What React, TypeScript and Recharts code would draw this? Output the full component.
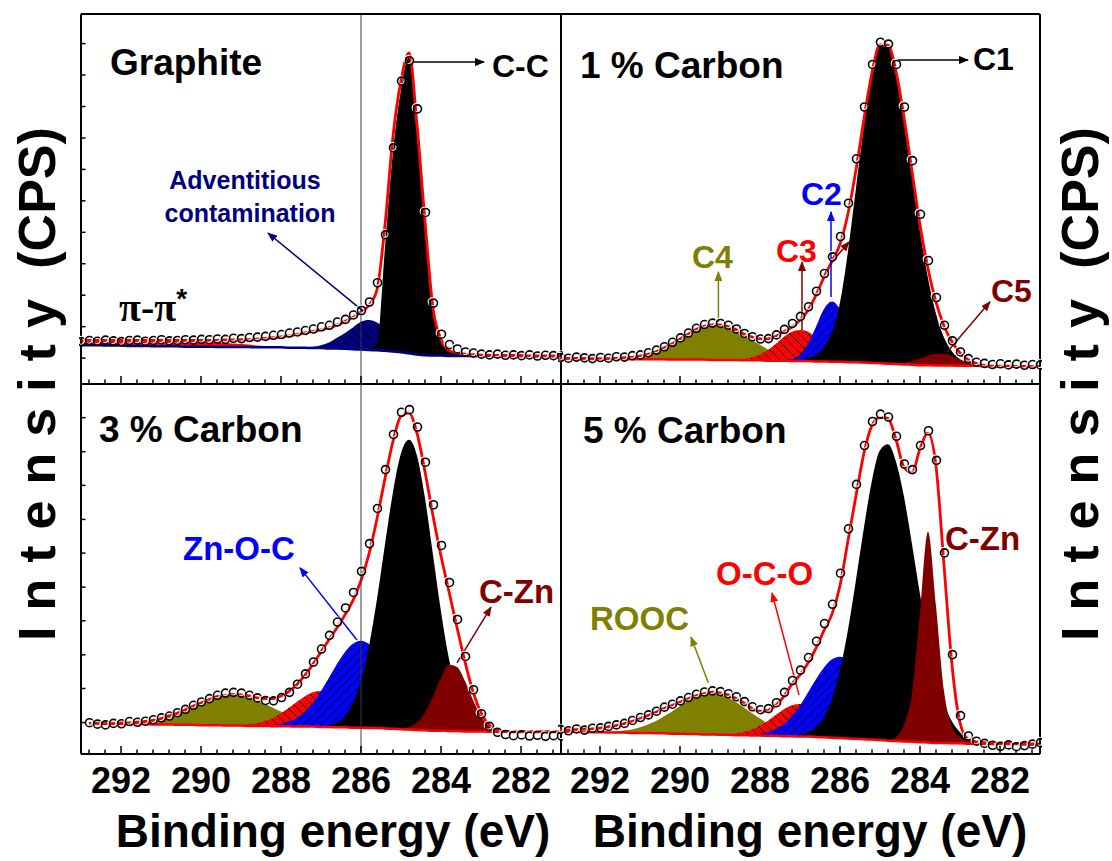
import React from "react";
import { ComposedChart, Area, Line, XAxis, YAxis, ReferenceLine } from "recharts";

// ---------- shared energy grid (binding energy, eV) ----------
const STEP = 0.2;
const ENERGY = [
  293.0, 292.8, 292.6, 292.4, 292.2, 292.0, 291.8, 291.6, 291.4, 291.2,
  291.0, 290.8, 290.6, 290.4, 290.2, 290.0, 289.8, 289.6, 289.4, 289.2,
  289.0, 288.8, 288.6, 288.4, 288.2, 288.0, 287.8, 287.6, 287.4, 287.2,
  287.0, 286.8, 286.6, 286.4, 286.2, 286.0, 285.8, 285.6, 285.4, 285.2,
  285.0, 284.8, 284.6, 284.4, 284.2, 284.0, 283.8, 283.6, 283.4, 283.2,
  283.0, 282.8, 282.6, 282.4, 282.2, 282.0, 281.8, 281.6, 281.4, 281.2,
  281.0,
];
const BOTTOM_TICKS = [
  292.8, 292.4, 292, 291.6, 291.2, 290.8, 290.4, 290, 289.6, 289.2, 288.8, 288.4, 288, 287.6, 287.2,
  286.8, 286.4, 286, 285.6, 285.2, 284.8, 284.4, 284, 283.6, 283.2, 282.8, 282.4, 282, 281.6, 281.2,
];
const TOP_TICKS = [292, 291, 290, 289, 288, 287, 286, 285, 284, 283, 282];
const Y_TICKS_TOP_LEFT = [7, 15.5, 24, 32.5, 41, 49.5, 58, 66.5, 75, 83.5, 92];
const Y_TICKS_BOTTOM_LEFT = [8.5, 17.7, 26.8, 36, 45.1, 54.3, 63.4, 72.6, 81.7, 90.9];
const Y_TICKS_RIGHT = [10, 30, 50, 70, 90];

// ---------- Graphite ----------
const G_BG = [
  10.5, 10.5, 10.5, 10.4, 10.4, 10.4, 10.3, 10.3, 10.3, 10.2,
  10.2, 10.2, 10.2, 10.1, 10.1, 10.1, 10.1, 10.0, 10.0, 10.0,
  10.0, 10.0, 9.9, 9.9, 9.9, 9.9, 9.8, 9.8, 9.8, 9.7,
  9.7, 9.6, 9.6, 9.5, 9.4, 9.3, 9.2, 9.1, 9.0, 8.8,
  8.6, 8.3, 8.0, 7.8, 7.7, 7.7, 7.6, 7.6, 7.6, 7.6,
  7.6, 7.6, 7.5, 7.5, 7.5, 7.5, 7.5, 7.5, 7.5, 7.5,
  7.5,
];
const G_FIT = [
  11.8, 11.8, 11.8, 11.8, 11.8, 11.8, 11.8, 11.8, 11.8, 11.8,
  11.8, 11.8, 11.8, 11.8, 11.8, 11.8, 11.8, 11.8, 11.9, 11.9,
  12.0, 12.0, 12.1, 12.3, 12.5, 12.7, 13.0, 13.4, 13.8, 14.2,
  14.6, 15.2, 15.9, 16.9, 18.0, 19.4, 21.3, 25.5, 43.0, 67.0,
  82.0, 89.5, 70.0, 44.0, 20.5, 12.0, 9.1, 8.4, 8.1, 7.9,
  7.8, 7.8, 7.7, 7.7, 7.7, 7.7, 7.6, 7.6, 7.6, 7.6,
  7.6,
];
const G_DOTS = [
  11.6, 11.9, 11.7, 12.0, 11.8, 11.6, 11.9, 12.0, 11.7, 11.9,
  12.1, 11.8, 11.9, 12.1, 12.0, 12.2, 12.1, 12.3, 12.2, 12.5,
  12.4, 12.7, 12.8, 13.0, 13.3, 13.5, 13.9, 14.2, 14.6, 15.0,
  15.6, 16.0, 16.9, 17.6, 18.8, 20.0, 22.3, 27.5, 40.5, 64.0,
  82.0, 87.5, 74.5, 46.5, 22.0, 13.6, 10.8, 9.6, 8.8, 8.5,
  8.2, 8.0, 8.2, 7.9, 8.0, 7.8, 8.0, 7.7, 7.9, 7.8,
  7.7,
];
// components: first energy + heights above background on the 0.2 eV grid
const G_PI = { from: 293.0, h: [1.4, 1.45, 1.5, 1.55, 1.6, 1.65, 1.7, 1.7, 1.7, 1.7, 1.7, 1.65, 1.6, 1.55, 1.5, 1.4, 1.3, 1.2, 1.1, 0.95, 0.8, 0.65, 0.5, 0.35, 0.2, 0.1] };
const G_ADV = { from: 287.4, h: [0.15, 0.35, 0.8, 1.6, 2.9, 4.3, 5.9, 7.5, 8.1, 7.5, 5.9, 3.9, 2.3, 1.1, 0.45, 0.16] };
const G_CC = { from: 285.8, h: [0.2, 2.0, 28, 54, 71, 80, 60, 36, 12.5, 4.0, 1.6, 0.6, 0.2] };

// ---------- 1 % Carbon ----------
const P1_BG = [
  6.9, 6.9, 6.9, 6.9, 6.8, 6.8, 6.8, 6.8, 6.8, 6.7,
  6.7, 6.7, 6.7, 6.7, 6.6, 6.6, 6.6, 6.6, 6.6, 6.5,
  6.5, 6.5, 6.5, 6.4, 6.4, 6.4, 6.3, 6.3, 6.3, 6.2,
  6.2, 6.2, 6.1, 6.1, 6.0, 6.0, 5.9, 5.9, 5.8, 5.7,
  5.6, 5.5, 5.4, 5.3, 5.2, 5.1, 5.1, 5.0, 5.0, 5.0,
  4.9, 4.9, 4.9, 4.8, 4.8, 4.8, 4.8, 4.7, 4.7, 4.7,
  4.7,
];
const P1_FIT = [
  6.9, 6.9, 6.9, 6.9, 6.8, 6.8, 6.8, 6.9, 7.1, 7.2,
  7.5, 8.0, 8.7, 9.7, 10.8, 12.1, 13.4, 14.7, 15.6, 16.0,
  16.0, 15.5, 14.7, 13.5, 12.7, 12.2, 12.2, 12.9, 14.2, 15.4,
  17.3, 19.9, 24.0, 28.9, 33.2, 37.8, 46.1, 57.9, 71.7, 84.2,
  91.7, 91.6, 84.5, 72.1, 57.5, 43.0, 31.2, 22.1, 15.7, 11.4,
  8.4, 6.6, 5.6, 5.0, 4.8, 4.8, 4.8, 4.7, 4.7, 4.7,
  4.7,
];
const P1_DOTS = [
  7.3, 7.1, 7.4, 7.2, 7.0, 7.3, 7.1, 7.5, 7.4, 7.8,
  8.0, 8.6, 9.3, 10.2, 11.4, 12.6, 13.9, 15.2, 16.2, 16.6,
  16.5, 16.0, 15.0, 13.8, 12.9, 12.3, 12.4, 13.4, 14.9, 16.5,
  18.4, 21.0, 25.2, 30.0, 34.5, 40.0, 49.0, 61.0, 75.0, 86.5,
  92.5, 92.0, 86.5, 75.0, 60.5, 46.0, 33.5, 23.5, 16.0, 11.8,
  8.8, 7.0, 6.0, 5.7, 5.4, 5.6, 5.3, 5.5, 5.2, 5.4,
  5.3,
];
const P1_C4 = { from: 291.6, h: [0.12, 0.25, 0.45, 0.8, 1.3, 2.0, 3.0, 4.2, 5.5, 6.8, 8.1, 9.0, 9.5, 9.5, 9.0, 8.1, 6.8, 5.5, 4.2, 3.0, 2.0, 1.3, 0.8, 0.45, 0.25, 0.12] };
const P1_C3 = { from: 288.6, h: [0.13, 0.33, 0.8, 1.6, 2.9, 4.6, 6.5, 7.9, 8.4, 7.9, 6.5, 4.6, 2.9, 1.6, 0.8, 0.33, 0.13] };
const P1_C2 = { from: 287.4, h: [0.1, 0.5, 1.8, 4.7, 9.4, 14.2, 16.3, 14.2, 9.4, 4.7, 1.8, 0.5, 0.1] };
const P1_C1 = { from: 287.0, h: [0.3, 0.8, 1.9, 4.0, 8.0, 16.0, 30.0, 47.0, 64.0, 78.0, 86.0, 86.1, 78.9, 66.4, 51.3, 36.2, 23.5, 14.0, 7.6, 3.8, 1.8, 0.7, 0.3] };
const P1_C5 = { from: 284.6, h: [0.16, 0.4, 1.0, 1.7, 2.6, 3.1, 3.1, 2.6, 1.7, 1.0, 0.4, 0.16] };

// ---------- 3 % Carbon ----------
const P3_BG = [
  null, 8.3, 8.3, 8.2, 8.2, 8.2, 8.1, 8.1, 8.1, 8.0,
  8.0, 8.0, 7.9, 7.9, 7.9, 7.8, 7.8, 7.8, 7.7, 7.7,
  7.7, 7.6, 7.6, 7.6, 7.5, 7.5, 7.5, 7.4, 7.4, 7.4,
  7.3, 7.3, 7.2, 7.2, 7.1, 7.1, 7.0, 7.0, 6.9, 6.8,
  6.7, 6.6, 6.5, 6.4, 6.3, 6.3, 6.2, 6.2, 6.1, 6.1,
  6.1, 6.0, 6.0, 6.0, 6.0, 6.0, 6.0, 6.0, 6.0, 6.0,
  6.0,
];
const P3_FIT = [
  null, 8.3, 8.3, 8.2, 8.2, 8.4, 8.4, 8.6, 8.8, 9.1,
  9.6, 10.3, 11.0, 11.9, 12.9, 13.8, 14.7, 15.5, 15.8, 16.1,
  16.0, 15.7, 15.2, 15.0, 15.0, 15.7, 16.9, 18.8, 21.3, 24.3,
  27.6, 30.9, 34.1, 37.6, 41.5, 46.9, 54.1, 63.6, 74.5, 84.5,
  91.3, 92.2, 86.7, 76.3, 64.4, 53.5, 43.9, 34.2, 24.9, 16.9,
  11.2, 7.9, 6.5, 6.1, 6.0, 6.0, 6.0, 6.0, 6.0, 6.0,
  6.0,
];
const P3_DOTS = [
  null, 8.6, 8.2, 8.0, 8.4, 8.3, 8.9, 8.7, 9.0, 9.4,
  9.9, 10.4, 11.3, 12.2, 13.3, 14.2, 15.1, 16.0, 16.6, 16.8,
  16.6, 16.0, 15.3, 14.6, 14.5, 15.4, 16.8, 19.0, 21.8, 25.0,
  28.5, 32.2, 35.8, 39.6, 43.8, 49.5, 57.0, 66.5, 77.0, 86.5,
  92.5, 93.2, 88.5, 79.0, 67.5, 56.5, 46.5, 36.5, 26.5, 17.5,
  11.0, 7.6, 6.0, 5.4, 5.1, 5.3, 5.0, 5.2, 4.9, 5.1,
  5.0,
];
const P3_ROOC = { from: 292.0, h: [0.16, 0.28, 0.47, 0.74, 1.1, 1.6, 2.3, 3.1, 4.0, 5.0, 6.0, 6.9, 7.7, 8.1, 8.3, 8.1, 7.7, 6.9, 6.0, 5.0, 4.0, 3.1, 2.3, 1.6, 1.1, 0.74, 0.47, 0.28, 0.16] };
const P3_OCO = { from: 289.2, h: [0.07, 0.16, 0.36, 0.7, 1.3, 2.2, 3.5, 5.0, 6.7, 8.2, 9.3, 9.7, 9.3, 8.2, 6.7, 5.0, 3.5, 2.2, 1.3, 0.7, 0.36, 0.16, 0.07] };
const P3_ZNOC = { from: 288.4, h: [0.14, 0.32, 0.67, 1.3, 2.4, 4.1, 6.5, 9.7, 13.3, 17.1, 20.4, 22.7, 23.5, 22.7, 20.4, 17.1, 13.3, 9.7, 6.5, 4.1, 2.4, 1.3, 0.67, 0.32, 0.14] };
const P3_CC = { from: 287.0, h: [0.2, 0.5, 1.3, 3.1, 6.7, 12.8, 22.2, 34.9, 49.8, 64.0, 74.5, 78.3, 74.1, 62.7, 47.5, 32.2, 19.5, 10.6, 5.2, 2.3, 0.9, 0.3] };
const P3_CZN = { from: 285.0, h: [0.2, 0.7, 2.0, 4.8, 9.3, 14.3, 17.9, 17.3, 13.6, 8.5, 4.2, 1.6, 0.5, 0.13] };

// ---------- 5 % Carbon ----------
const P5_BG = [
  6.0, 6.0, 6.0, 5.9, 5.9, 5.9, 5.8, 5.8, 5.8, 5.7,
  5.7, 5.7, 5.6, 5.6, 5.5, 5.5, 5.4, 5.4, 5.3, 5.3,
  5.2, 5.2, 5.1, 5.1, 5.0, 5.0, 4.9, 4.9, 4.8, 4.8,
  4.7, 4.7, 4.6, 4.5, 4.4, 4.3, 4.2, 4.1, 4.0, 3.9,
  3.8, 3.6, 3.5, 3.4, 3.3, 3.2, 3.1, 3.0, 3.0, 2.9,
  2.9, 2.8, 2.8, 2.8, 2.7, 2.7, 2.7, 2.7, 2.6, 2.6,
  2.6,
];
const P5_FIT = [
  6.5, 6.5, 6.6, 6.7, 6.8, 7.0, 7.3, 7.7, 8.2, 8.8,
  9.6, 10.4, 11.3, 12.3, 13.1, 14.0, 14.9, 15.7, 16.3, 16.7,
  16.5, 16.0, 15.0, 13.8, 12.3, 11.5, 11.8, 13.2, 15.6, 18.9,
  21.4, 24.6, 28.6, 33.4, 37.8, 45.5, 57.7, 69.8, 81.4, 88.8,
  91.0, 90.7, 85.0, 77.5, 76.0, 82.5, 86.7, 77.8, 51.0, 24.0,
  8.5, 4.0, 3.3, 3.1, 3.0, 2.9, 2.9, 2.8, 2.8, 2.7,
  2.7,
];
const P5_DOTS = [
  6.8, 6.4, 6.9, 6.6, 7.1, 7.2, 7.6, 8.0, 8.4, 9.2,
  10.0, 10.7, 11.7, 12.8, 13.6, 14.5, 15.4, 16.3, 16.9, 17.2,
  17.0, 16.4, 15.6, 14.3, 12.9, 12.1, 12.4, 14.0, 16.8, 20.0,
  22.8, 26.2, 30.6, 35.4, 40.6, 49.0, 61.0, 73.0, 83.5, 90.0,
  92.0, 91.2, 86.0, 78.5, 77.0, 83.5, 87.5, 79.5, 54.5, 27.0,
  10.5, 5.0, 3.6, 3.0, 2.5, 2.2, 2.6, 2.1, 2.4, 2.8,
  3.2,
];
const P5_ROOC = { from: 291.8, h: [0.17, 0.32, 0.56, 0.94, 1.5, 2.3, 3.3, 4.6, 6.0, 7.5, 8.9, 10.1, 10.8, 11.1, 10.8, 10.1, 8.9, 7.5, 6.0, 4.6, 3.3, 2.3, 1.5, 0.94, 0.56, 0.32, 0.17] };
const P5_OCO = { from: 289.0, h: [0.08, 0.19, 0.42, 0.87, 1.6, 2.7, 4.1, 5.7, 7.3, 8.4, 8.8, 8.4, 7.3, 5.7, 4.1, 2.7, 1.6, 0.87, 0.42, 0.19, 0.08] };
const P5_ZNOC = { from: 288.4, h: [0.09, 0.21, 0.46, 0.97, 1.9, 3.3, 5.5, 8.4, 11.9, 15.6, 18.9, 21.2, 22.0, 21.2, 18.9, 15.6, 11.9, 8.4, 5.5, 3.3, 1.9, 0.97, 0.46, 0.21, 0.09] };
const P5_CC = { from: 287.0, h: [0.5, 1.2, 2.7, 5.5, 10.5, 18.4, 29.4, 43.0, 57.3, 70.1, 78.3, 80.1, 75.5, 66.1, 53.4, 40.0, 27.7, 17.7, 10.6, 5.9, 3.0, 1.4, 0.6, 0.25] };
const P5_CZN = { from: 284.6, h: [1.0, 4.5, 13, 35, 57, 37, 14, 4.5, 1.7, 0.6, 0.2] };

// ---------- colours ----------
const BLACK = "#000000";
const RED = "#ff0000";
const BLUE = "#0000ff";
const NAVY = "#000080";
const OLIVE = "#808000";
const MAROON = "#800000";
const FONT = "'Liberation Sans', Arial, Helvetica, sans-serif";
const ARROW_COLORS: Record<string, string> = { black: BLACK, navy: NAVY, blue: BLUE, red: RED, olive: OLIVE, maroon: MAROON };

type Comp = { from: number; h: number[] };

function buildRows(bg: (number | null)[], dots: (number | null)[], fit: (number | null)[], comps: Record<string, Comp>) {
  return ENERGY.map((e, i) => {
    const row: Record<string, unknown> = { e, bg: bg[i], dots: dots[i], fit: fit[i] };
    const base = bg[i];
    Object.keys(comps).forEach((key) => {
      const c = comps[key];
      const k = Math.round((c.from - e) / STEP);
      const h = k >= 0 && k < c.h.length ? c.h[k] : 0;
      row[key] = base == null ? null : [base, Math.round((base + h) * 100) / 100];
    });
    return row;
  });
}

const ROWS_G = buildRows(G_BG, G_DOTS, G_FIT, { pi: G_PI, adv: G_ADV, cc: G_CC });
const ROWS_1 = buildRows(P1_BG, P1_DOTS, P1_FIT, { c4: P1_C4, c3: P1_C3, c2: P1_C2, c1: P1_C1, c5: P1_C5 });
const ROWS_3 = buildRows(P3_BG, P3_DOTS, P3_FIT, { rooc: P3_ROOC, oco: P3_OCO, znoc: P3_ZNOC, cc: P3_CC, czn: P3_CZN });
const ROWS_5 = buildRows(P5_BG, P5_DOTS, P5_FIT, { rooc: P5_ROOC, oco: P5_OCO, znoc: P5_ZNOC, cc: P5_CC, czn: P5_CZN });

// ---------- tick renderers (all ticks point into the frame) ----------
function bottomTick(withLabel: boolean) {
  return (p: any) => {
    const v = Number(p.payload && p.payload.value);
    const r = Math.round(v);
    const major = Math.abs(v - r) < 1e-6 && r % 2 === 0;
    return (
      <g>
        <line x1={p.x} x2={p.x} y1={p.y} y2={p.y - (major ? 8 : 4.5)} stroke="#000" strokeWidth={1.5} />
        {withLabel && major ? (
          <text x={p.x} y={p.y + 39} textAnchor="middle" fontFamily={FONT} fontWeight="bold" fontSize={36} fill="#000">
            {r}
          </text>
        ) : null}
      </g>
    );
  };
}
const topTick = (p: any) => <line x1={p.x} x2={p.x} y1={p.y} y2={p.y + 5} stroke="#000" strokeWidth={1.5} />;
const leftTick = (p: any) => <line x1={p.x} x2={p.x + 4.5} y1={p.y} y2={p.y} stroke="#000" strokeWidth={1.5} />;
const rightTick = (p: any) => <line x1={p.x} x2={p.x - 4.5} y1={p.y} y2={p.y} stroke="#000" strokeWidth={1.5} />;

const DataDot = (p: any) => {
  const { cx, cy, index, value } = p;
  if (cx == null || cy == null || value == null || Number.isNaN(cy)) return <g key={`d-${index}`} />;
  return (
    <g key={`d-${index}`}>
      <circle cx={cx - 0.8} cy={cy - 0.7} r={4} fill="none" stroke="#fff" strokeWidth={1.2} />
      <circle cx={cx + 0.5} cy={cy + 0.5} r={4} fill="none" stroke="#000" strokeWidth={1.6} />
    </g>
  );
};

type Arrow = { from: [number, number]; to: [number, number]; color: string };
type CompStyle = { key: string; fill: string };

type PanelProps = {
  id: string;
  left: number;
  top: number;
  rows: Record<string, unknown>[];
  comps: CompStyle[];
  bgColor: string;
  withLabels: boolean;
  edges: { left: boolean; right: boolean; top: boolean; bottom: boolean };
  yTicksLeft?: number[];
  yTicksRight?: number[];
  topTicks: boolean;
  arrows: Arrow[];
  refLine: boolean;
};

function Panel(props: PanelProps) {
  const { id, left, top, rows, comps, bgColor, withLabels, edges, yTicksLeft, yTicksRight, topTicks, arrows, refLine } = props;
  const axisH = withLabels ? 45 : 1;
  const edge = (on: boolean) => (on ? { stroke: "#000", strokeWidth: 2 } : false);
  const fillOf = (f: string) => (f.startsWith("#") ? f : `url(#${id}-${f})`);
  return (
    <div style={{ position: "absolute", left, top }}>
      <ComposedChart
        width={484}
        height={withLabels ? 419 : 374}
        data={rows}
        margin={{ top: 1, right: 1, bottom: withLabels ? 2 : 1, left: 1 }}
      >
        <defs>
          <pattern id={`${id}-hatch-blue`} patternUnits="userSpaceOnUse" width={9} height={9}>
            <rect width={9} height={9} fill={BLUE} />
            <path d="M0,9 L9,0 M-2,2 L2,-2 M7,11 L11,7" stroke="#000" strokeWidth={1} />
          </pattern>
          <pattern id={`${id}-hatch-red`} patternUnits="userSpaceOnUse" width={9} height={9}>
            <rect width={9} height={9} fill={RED} />
            <path d="M0,0 L9,9 M-2,7 L2,11 M7,-2 L11,2" stroke="#000" strokeWidth={1} />
          </pattern>
          <pattern id={`${id}-hatch-navy`} patternUnits="userSpaceOnUse" width={9} height={9}>
            <rect width={9} height={9} fill={NAVY} />
            <path d="M0,0 L9,9 M-2,7 L2,11 M7,-2 L11,2" stroke="#000" strokeWidth={1} />
          </pattern>
          {Object.keys(ARROW_COLORS).map((name) => (
            <marker
              key={name}
              id={`${id}-arrow-${name}`}
              viewBox="0 0 10 8"
              refX={9}
              refY={4}
              markerWidth={10}
              markerHeight={8}
              markerUnits="userSpaceOnUse"
              orient="auto"
            >
              <path d="M0,0 L10,4 L0,8 z" fill={ARROW_COLORS[name]} />
            </marker>
          ))}
        </defs>

        <XAxis
          xAxisId="x"
          dataKey="e"
          type="number"
          domain={[281, 293]}
          reversed
          ticks={BOTTOM_TICKS}
          interval={0}
          height={axisH}
          tickSize={0}
          tickMargin={0}
          tickLine={false}
          axisLine={edge(edges.bottom)}
          tick={bottomTick(withLabels)}
        />
        <XAxis
          xAxisId="xt"
          orientation="top"
          type="number"
          domain={[281, 293]}
          reversed
          ticks={TOP_TICKS}
          interval={0}
          height={1}
          tickSize={0}
          tickMargin={0}
          tickLine={false}
          axisLine={edge(edges.top)}
          tick={topTicks ? topTick : false}
        />
        <YAxis
          yAxisId="y"
          type="number"
          domain={[0, 100]}
          width={1}
          ticks={yTicksLeft || [50]}
          interval={0}
          tickSize={0}
          tickMargin={0}
          tickLine={false}
          axisLine={edge(edges.left)}
          tick={yTicksLeft ? leftTick : false}
        />
        <YAxis
          yAxisId="yr"
          orientation="right"
          type="number"
          domain={[0, 100]}
          width={1}
          ticks={yTicksRight || [50]}
          interval={0}
          tickSize={0}
          tickMargin={0}
          tickLine={false}
          axisLine={edge(edges.right)}
          tick={yTicksRight ? rightTick : false}
        />

        {comps.map((c) => (
          <Area
            key={c.key}
            xAxisId="x"
            yAxisId="y"
            dataKey={c.key}
            type="monotone"
            fill={fillOf(c.fill)}
            fillOpacity={1}
            stroke="none"
            dot={false}
            activeDot={false}
            isAnimationActive={false}
          />
        ))}
        <Line xAxisId="x" yAxisId="y" dataKey="bg" type="monotone" stroke={bgColor} strokeWidth={2.5} dot={false} activeDot={false} isAnimationActive={false} />
        <Line xAxisId="x" yAxisId="y" dataKey="dots" stroke="none" strokeWidth={0} dot={DataDot} activeDot={false} isAnimationActive={false} />
        <Line xAxisId="x" yAxisId="y" dataKey="fit" type="monotone" stroke={RED} strokeWidth={2.8} dot={false} activeDot={false} isAnimationActive={false} />

        {refLine ? <ReferenceLine xAxisId="x" yAxisId="y" x={286} stroke="#3a3a3a" strokeWidth={1} /> : null}
        {arrows.map((a, i) => {
          const col = ARROW_COLORS[a.color];
          return (
            <ReferenceLine
              key={`ar-${i}`}
              xAxisId="x"
              yAxisId="y"
              ifOverflow="visible"
              segment={[
                { x: a.from[0], y: a.from[1] },
                { x: a.to[0], y: a.to[1] },
              ]}
              stroke={col}
              strokeWidth={1.5}
              shape={(p: any) => (
                <line x1={p.x1} y1={p.y1} x2={p.x2} y2={p.y2} stroke={col} strokeWidth={1.5} markerEnd={`url(#${id}-arrow-${a.color})`} />
              )}
            />
          );
        })}
      </ComposedChart>
    </div>
  );
}

// ---------- annotation arrows (energy, intensity) ----------
const ARROWS_G: Arrow[] = [
  { from: [284.675, 87.0], to: [282.925, 87.0], color: "black" },
  { from: [285.925, 19.5], to: [288.325, 40.8], color: "navy" },
];
const ARROWS_1: Arrow[] = [
  { from: [284.575, 87.6], to: [282.8, 87.6], color: "black" },
  { from: [286.225, 23.5], to: [286.225, 46.5], color: "blue" },
  { from: [286.95, 14.6], to: [286.95, 33.0], color: "maroon" },
  { from: [286.225, 32.7], to: [285.775, 38.4], color: "maroon" },
  { from: [289.04, 16.8], to: [289.04, 30.3], color: "olive" },
  { from: [283.325, 8.6], to: [282.25, 22.2], color: "maroon" },
];
const ARROWS_3: Arrow[] = [
  { from: [286.1, 30.8], to: [287.525, 50.3], color: "blue" },
  { from: [283.6, 24.6], to: [282.75, 39.7], color: "maroon" },
];
const ARROWS_5: Arrow[] = [
  { from: [287.025, 15.9], to: [287.7, 43.5], color: "red" },
  { from: [289.29, 19.2], to: [289.725, 31.6], color: "olive" },
];

type Label = { text: string; x: number; y: number; size: number; color: string; anchor?: "start" | "middle" };
const LABELS: Label[] = [
  { text: "Graphite", x: 110, y: 75, size: 37, color: BLACK },
  { text: "C-C", x: 492, y: 77, size: 32, color: BLACK },
  { text: "Adventitious", x: 245, y: 189, size: 25, color: NAVY, anchor: "middle" },
  { text: "contamination", x: 250, y: 222, size: 25, color: NAVY, anchor: "middle" },
  { text: "1 % Carbon", x: 580, y: 78, size: 37, color: BLACK },
  { text: "C1", x: 973, y: 70, size: 32, color: BLACK },
  { text: "C2", x: 801, y: 205, size: 32, color: BLUE },
  { text: "C3", x: 776, y: 262, size: 32, color: RED },
  { text: "C4", x: 692, y: 268, size: 32, color: OLIVE },
  { text: "C5", x: 991, y: 302, size: 32, color: MAROON },
  { text: "3 % Carbon", x: 99, y: 442, size: 37, color: BLACK },
  { text: "Zn-O-C", x: 183, y: 560, size: 33, color: BLUE },
  { text: "C-Zn", x: 479, y: 603, size: 33, color: MAROON },
  { text: "5 % Carbon", x: 583, y: 443, size: 37, color: BLACK },
  { text: "C-Zn", x: 945, y: 550, size: 33, color: MAROON },
  { text: "O-C-O", x: 716, y: 585, size: 33, color: RED },
  { text: "ROOC", x: 590, y: 630, size: 33, color: OLIVE },
];

function YTitle({ x }: { x: number }) {
  return (
    <text transform={`translate(${x} 641) rotate(-90)`} fontFamily={FONT} fontWeight="bold" fontSize={52} fill="#000">
      <tspan style={{ letterSpacing: "16px" }}>Intensity</tspan>
      <tspan> (CPS)</tspan>
    </text>
  );
}

export default function App() {
  return (
    <div style={{ position: "absolute", left: 0, top: 0, width: 1112, height: 861, background: "#fff" }}>
      <Panel
        id="g"
        left={79}
        top={12}
        rows={ROWS_G}
        comps={[
          { key: "pi", fill: RED },
          { key: "adv", fill: "hatch-navy" },
          { key: "cc", fill: BLACK },
        ]}
        bgColor={NAVY}
        withLabels={false}
        edges={{ left: true, right: true, top: true, bottom: true }}
        yTicksLeft={Y_TICKS_TOP_LEFT}
        topTicks
        arrows={ARROWS_G}
        refLine
      />
      <Panel
        id="p1"
        left={558}
        top={12}
        rows={ROWS_1}
        comps={[
          { key: "c4", fill: OLIVE },
          { key: "c3", fill: "hatch-red" },
          { key: "c2", fill: "hatch-blue" },
          { key: "c1", fill: BLACK },
          { key: "c5", fill: MAROON },
        ]}
        bgColor={RED}
        withLabels={false}
        edges={{ left: false, right: true, top: true, bottom: true }}
        yTicksRight={Y_TICKS_RIGHT}
        topTicks
        arrows={ARROWS_1}
        refLine={false}
      />
      <Panel
        id="p3"
        left={79}
        top={382}
        rows={ROWS_3}
        comps={[
          { key: "rooc", fill: OLIVE },
          { key: "oco", fill: "hatch-red" },
          { key: "znoc", fill: "hatch-blue" },
          { key: "cc", fill: BLACK },
          { key: "czn", fill: MAROON },
        ]}
        bgColor={RED}
        withLabels
        edges={{ left: true, right: true, top: false, bottom: true }}
        yTicksLeft={Y_TICKS_BOTTOM_LEFT}
        topTicks={false}
        arrows={ARROWS_3}
        refLine
      />
      <Panel
        id="p5"
        left={558}
        top={382}
        rows={ROWS_5}
        comps={[
          { key: "rooc", fill: OLIVE },
          { key: "oco", fill: "hatch-red" },
          { key: "znoc", fill: "hatch-blue" },
          { key: "cc", fill: BLACK },
          { key: "czn", fill: MAROON },
        ]}
        bgColor={RED}
        withLabels
        edges={{ left: false, right: true, top: false, bottom: true }}
        yTicksRight={Y_TICKS_RIGHT}
        topTicks={false}
        arrows={ARROWS_5}
        refLine={false}
      />

      <svg width={1112} height={861} style={{ position: "absolute", left: 0, top: 0, pointerEvents: "none" }}>
        {LABELS.map((l, i) => (
          <text
            key={i}
            x={l.x}
            y={l.y}
            textAnchor={l.anchor || "start"}
            fontFamily={FONT}
            fontWeight="bold"
            fontSize={l.size}
            fill={l.color}
          >
            {l.text}
          </text>
        ))}
        <text x={119} y={321} fontFamily="'Liberation Serif', 'DejaVu Serif', serif" fontWeight="bold" fontSize={40} fill="#000">
          π-π
          <tspan fontFamily={FONT} fontSize={28} dy={-13}>
            *
          </tspan>
        </text>
        <YTitle x={55} />
        <YTitle x={1098} />
        <text x={333} y={847} textAnchor="middle" fontFamily={FONT} fontWeight="bold" fontSize={46} fill="#000">
          Binding energy (eV)
        </text>
        <text x={810} y={847} textAnchor="middle" fontFamily={FONT} fontWeight="bold" fontSize={46} fill="#000">
          Binding energy (eV)
        </text>
      </svg>
    </div>
  );
}
